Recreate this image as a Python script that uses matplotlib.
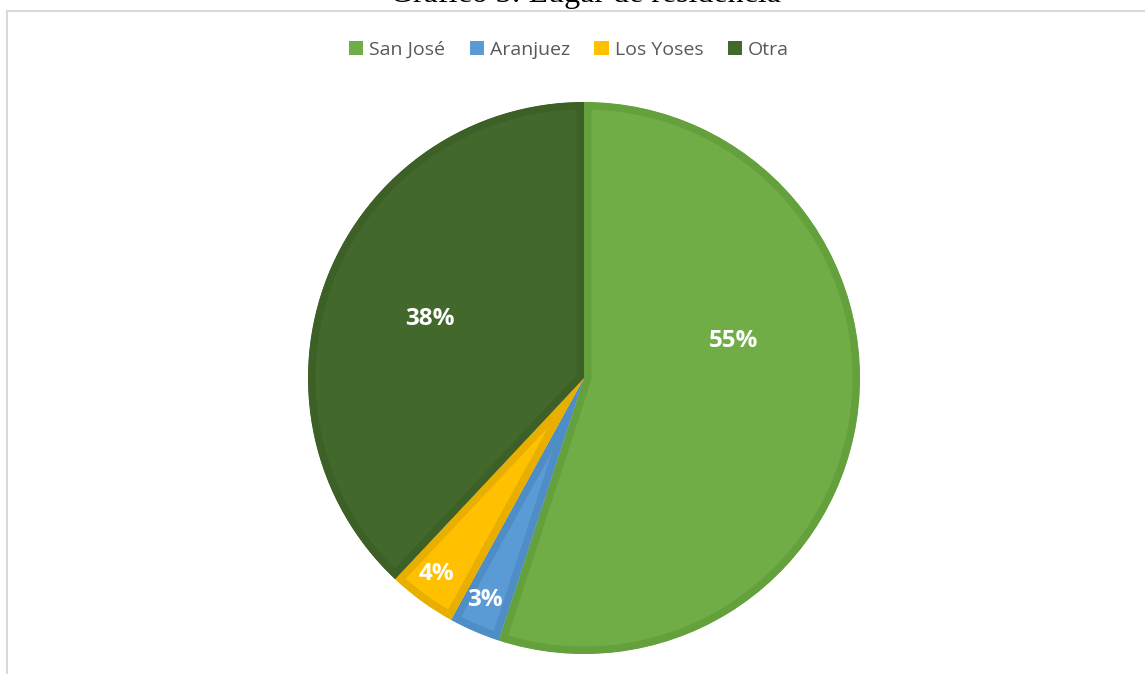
import matplotlib
matplotlib.use("Agg")
import matplotlib.pyplot as plt
from matplotlib.patches import Patch
from matplotlib.lines import Line2D
import numpy as np

# ---- data ----
categories = ["San José", "Aranjuez", "Los Yoses", "Otra"]
values = [55, 3, 4, 38]
pct_labels = ["55%", "3%", "4%", "38%"]
title = "Gráfico 3: Lugar de residencia"

# ---- style ----
fill_colors = ["#70AD47", "#5B9BD5", "#FFC000", "#43682B"]
edge_colors = ["#64A03C", "#4F8DC6", "#E8AE00", "#3D6027"]
# label placement (angle in degrees, fraction of radius)
label_polar = [(14, 0.56), (-114, 0.88), (-127, 0.89), (159, 0.60)]

W, H = 1145, 674
DPI = 100
fig = plt.figure(figsize=(W / DPI, H / DPI), dpi=DPI)
ax = fig.add_axes([0, 0, 1, 1])

cx, cy = 584, H - 378
R = 276
stroke_px = 7.5
lw_pt = 2 * stroke_px * 72 / DPI

wedges, _ = ax.pie(values, colors=fill_colors, startangle=90, counterclock=False,
                   center=(cx, cy), radius=R,
                   wedgeprops=dict(linewidth=lw_pt, joinstyle="miter"))
for w, ec in zip(wedges, edge_colors):
    w.set_edgecolor(ec)
    w.set_clip_on(True)
    w.set_clip_path(w)

for lab, (ang, fr) in zip(pct_labels, label_polar):
    a = np.deg2rad(ang)
    ax.text(cx + fr * R * np.cos(a), cy + fr * R * np.sin(a), lab,
            ha="center", va="center", color="white", fontsize=17.5,
            fontweight="bold", family="Open Sans")

ax.set_xlim(0, W)
ax.set_ylim(0, H)
ax.set_aspect("equal")
ax.axis("off")

# frame lines
fig.add_artist(Line2D([7 / W, 1], [1 - 11 / H, 1 - 11 / H], color="#D9D9D9", lw=1.5))
fig.add_artist(Line2D([7 / W, 7 / W], [0, 1 - 11 / H], color="#D9D9D9", lw=1.5))

# title (clipped at the top, as in the reference)
fig.text(585 / W, 1 - 2 / H, title, ha="center", va="baseline",
         family="Liberation Serif", fontsize=23, color="black")

handles = [Patch(facecolor=c, edgecolor="none") for c in fill_colors]
leg = fig.legend(handles, categories, loc="center", bbox_to_anchor=(569 / W, 1 - 50 / H),
                 ncol=4, frameon=False, handlelength=0.75, handleheight=0.75,
                 handletextpad=0.3, columnspacing=1.25,
                 prop={"family": "Open Sans", "size": 14})
for t in leg.get_texts():
    t.set_color("#595959")

fig.savefig("out.png", dpi=DPI)
